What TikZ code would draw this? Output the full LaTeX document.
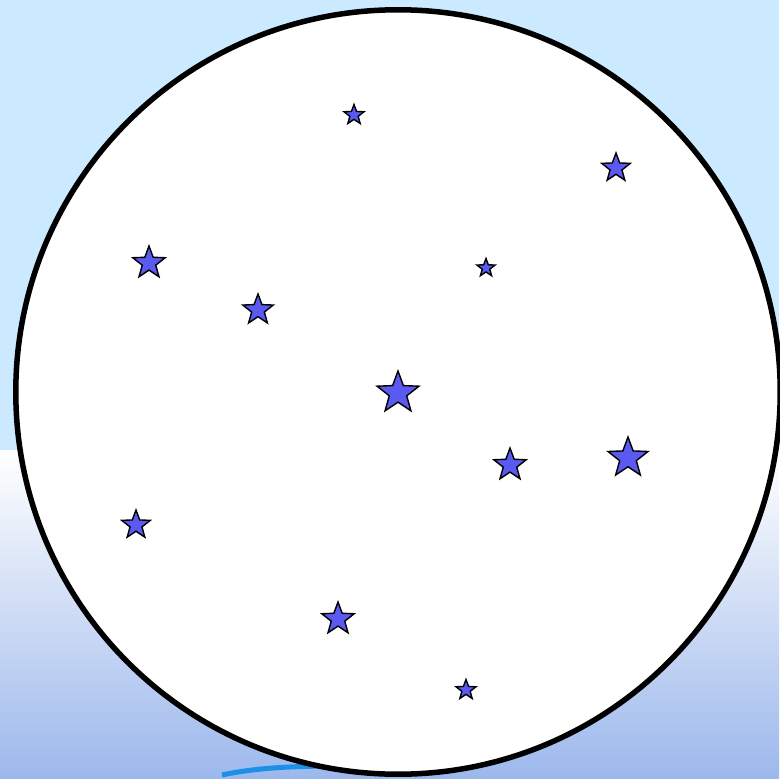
\documentclass[tikz,border=0pt]{standalone}
\usepackage{tikz}
\usetikzlibrary{shapes.geometric}
\definecolor{clrSky}    {HTML}{CCEAFF}
\definecolor{clrGround} {HTML}{9CB8EC}
\definecolor{clrStar}   {HTML}{5A5AF2}
\definecolor{clrRiver}  {HTML}{1E8FE6}

\begin{document}
\begin{tikzpicture}[
  x=0.01cm, y=-0.01cm,
  starnode/.style={star, star points=5, star point ratio=2.4,
                   fill=clrStar, draw=black, line width=0.4pt,
                   inner sep=0pt, shape border rotate=0},
  rim/.style={draw=black, line width=0.055cm, fill=white},
]
\useasboundingbox (0,0) rectangle (779,779);
% background
\fill[clrSky] (0,0) rectangle (779,450);
\shade[top color=white, bottom color=clrGround] (0,450) rectangle (779,779);
\draw[clrRiver, line width=0.05cm] (222,775) .. controls (255,768) and (290,766) .. (340,766);
% sky dome
\node[circle, rim, minimum size=7.64cm, inner sep=0pt] (dome) at (398,392) {};
% stars
\node[starnode, minimum size=0.21cm] (s1)  at (354,115) {};
\node[starnode, minimum size=0.30cm] (s2)  at (616,168) {};
\node[starnode, minimum size=0.34cm] (s3)  at (149,263) {};
\node[starnode, minimum size=0.19cm] (s4)  at (486,268) {};
\node[starnode, minimum size=0.32cm] (s5)  at (258,310) {};
\node[starnode, minimum size=0.44cm] (s6)  at (398,393) {};
\node[starnode, minimum size=0.34cm] (s7)  at (510,465) {};
\node[starnode, minimum size=0.42cm] (s8)  at (628,458) {};
\node[starnode, minimum size=0.30cm] (s9)  at (136,525) {};
\node[starnode, minimum size=0.34cm] (s10) at (338,619) {};
\node[starnode, minimum size=0.21cm] (s11) at (466,690) {};
\end{tikzpicture}
\end{document}
